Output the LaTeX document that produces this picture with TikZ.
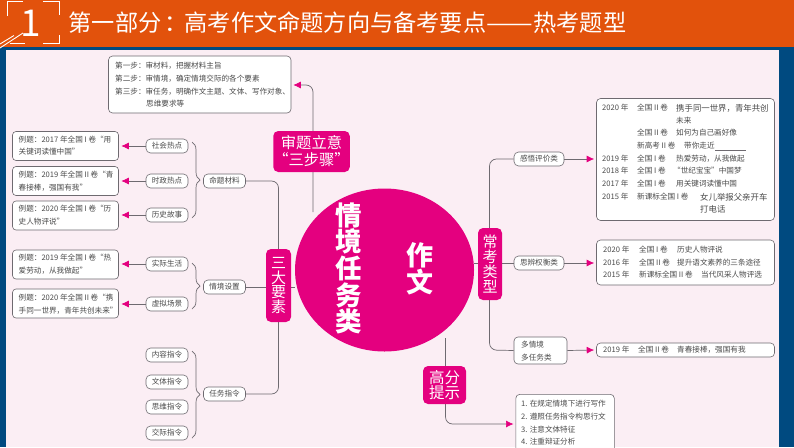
\documentclass[tikz,border=0pt]{standalone}
\usepackage{fontspec}
\usepackage{graphicx}
\setmainfont{Noto Sans CJK SC}
\usetikzlibrary{decorations.pathreplacing,arrows.meta,calc,shapes.geometric}
\definecolor{bluebg}{HTML}{004A80}
\definecolor{orangebar}{HTML}{E2520C}
\definecolor{panel}{HTML}{FBEEF4}
\definecolor{mag}{HTML}{E4007F}
\definecolor{linec}{HTML}{6E6A70}
\definecolor{txt}{HTML}{4A4A4A}
\tikzset{
 x=1pt,y=-1pt,
 wbox/.style={draw=linec,line width=.6pt,fill=white,rounded corners=3pt,inner sep=0pt,minimum height=#1},
 sbox/.style={wbox=14pt,minimum width=42pt,rounded corners=4.5pt,font=\fontsize{7.6}{9}\selectfont,text=txt},
 exbox/.style={wbox=29pt,minimum width=106pt,rounded corners=3.5pt},
 bigbox/.style={draw=linec,line width=.6pt,fill=white,rounded corners=4pt},
 magbox/.style={fill=mag,rounded corners=5pt,text=white,font=\fontsize{15}{16}\selectfont,inner sep=0pt,align=center},
 tx/.style={anchor=west,inner sep=0pt,text=txt,font=\fontsize{7.6}{9}\selectfont},
 txw/.style={tx,font=\fontsize{8.4}{9}\selectfont},
 con/.style={draw=linec,line width=.7pt,rounded corners=7pt},
 arr/.style={con,-{Latex[length=7.5pt,width=7pt,color=mag]}},
 brc/.style={draw=linec,line width=.7pt,decorate,decoration={brace,amplitude=8pt,aspect=.5}},
 hdr/.style={draw=white,line width=.9pt},
}
\begin{document}
\begin{tikzpicture}
\useasboundingbox (0,0) rectangle (794,447);
\fill[bluebg] (0,0) rectangle (794,447);
\fill[panel] (6,50) rectangle (779,447);
\fill[orangebar] (0,0) rectangle (794,47);
% header icon
\draw[hdr] (7,16) -- (7,1.5) -- (23,1.5);
\draw[hdr] (43,1.5) -- (59,1.5) -- (59,15);
\draw[hdr] (59,35) -- (59,43) -- (43,43);
\draw[hdr] (10,43) -- (25,43);
\draw[hdr] (0,48) -- (23,33);
\draw[hdr] (0,44) -- (14,35.5);
\node[text=white,inner sep=0pt,font=\fontsize{37}{37}\selectfont] (num) at (31,23.5) {1};
\node[anchor=west,text=white,inner sep=0pt,font=\fontsize{23.2}{24}\selectfont] (title) at (68.5,22.5) {第一部分\hspace{3pt}：\hspace{-3pt}高考作文命题方向与备考要点\scalebox{1.2}[1]{——}\hspace{0.5pt}热考题型};
% connectors drawn first
\node[fill=mag,ellipse,inner sep=0pt,minimum width=179pt,minimum height=163pt] (hub) at (384.5,270) {};
\coordinate (toplineend) at (313,212);
\coordinate (botstart) at (445.5,338);
% step box
\node[bigbox,minimum width=182.5pt,minimum height=57pt,inner sep=0pt] (steps) at (199.75,84.5) {};
\node[tx] (s1a) at (115,66) {第一步：审材料，把握材料主旨};
\node[tx] (s2a) at (115,79) {第二步：审情境，确定情境交际的各个要素};
\node[tx] (s3a) at (115,92) {第三步：审任务，明确作文主题、文体、写作对象、};
\node[tx] (s4a) at (146,104) {思维要求等};
% examples
\foreach \n/\y in {e1/146,e2/181,e3/215.5,e4/264.5,e5/303.5}{\node[exbox] (\n) at (65.5,\y) {};}
\node[tx] at (18.5,140) {例题：2017 年全国 I 卷“用};
\node[tx] at (18.5,152) {关键词读懂中国”};
\node[tx] at (18.5,175) {例题：2019 年全国 II 卷“青};
\node[tx] at (18.5,187.5) {春接棒，强国有我”};
\node[tx] at (18.5,209) {例题：2020 年全国 I 卷“历};
\node[tx] at (18.5,222) {史人物评说”};
\node[tx] at (18.5,258) {例题：2019 年全国 I 卷“热};
\node[tx] at (18.5,271) {爱劳动，从我做起”};
\node[tx] at (18.5,297.5) {例题：2020 年全国 II 卷“携};
\node[tx] at (18.5,311) {手同一世界，青年共创未来”};
% small nodes
\node[sbox] (a1) at (167,146) {社会热点};
\node[sbox] (a2) at (167,181) {时政热点};
\node[sbox] (a3) at (167,215) {历史故事};
\node[sbox] (a4) at (167,264) {实际生活};
\node[sbox] (a5) at (167,304) {虚拟场景};
\node[sbox] (a6) at (167,355) {内容指令};
\node[sbox] (a7) at (167,382) {文体指令};
\node[sbox] (a8) at (167,407) {思维指令};
\node[sbox] (a9) at (167,433) {交际指令};
\node[sbox] (m1) at (224.5,181) {命题材料};
\node[sbox] (m2) at (224.5,287) {情境设置};
\node[sbox] (m3) at (224.5,394) {任务指令};
\foreach \a/\e in {a1/e1,a2/e2,a3/e3,a4/e4,a5/e5}{\draw[arr] (\a.west) -- ([xshift=2.5pt]\e.east |- \a.west);}
% braces
\coordinate (b1a) at (192,142); \coordinate (b1b) at (192,218);
\coordinate (b2a) at (192,263); \coordinate (b2b) at (192,309);
\coordinate (b3a) at (192,351); \coordinate (b3b) at (192,438);
\draw[brc] (b1a) -- (b1b);
\draw[brc] (b2a) -- (b2b);
\draw[brc] (b3a) -- (b3b);
% left trunk
\draw[con] (m1.east) -- (278.5,181) -- (278.5,394) -- (m3.east);
\draw[con] (m2.east) -- (hub.west |- m2.east);
\node[magbox,minimum width=25pt,minimum height=73pt] (sanda) at (278.5,285.5) {三\\[-1.2pt]大\\[-1.2pt]要\\[-1.2pt]素};
% top branch
\draw[arr] (toplineend) -- (313,85) -- ([xshift=2pt]steps.east |- 0,85);
\node[magbox,minimum width=75pt,minimum height=41pt,font=\fontsize{15.3}{17}\selectfont] (shen) at (311.5,151.5) {审题立意\\“三步骤”};
% hub text
\node[text=white,inner sep=0pt,align=center,font=\fontsize{26.5}{26.7}\selectfont\bfseries] (qj) at (349,268.5) {情\\境\\任\\务\\类};
\node[text=white,inner sep=0pt,align=center,font=\fontsize{27}{27}\selectfont\bfseries] (zw) at (420,268.5) {作\\文};
% right trunk
\node[sbox,minimum width=50pt] (r1) at (539,159) {感悟评价类};
\node[sbox,minimum width=50pt] (r2) at (539,263) {思辨权衡类};
\node[wbox=27pt,minimum width=53pt,rounded corners=4pt,align=left] (r3) at (540.5,350.5) {};
\node[tx] at (521,345) {多情境};
\node[tx] at (521,357.5) {多任务类};
\draw[con] (r1.west) -- (489.5,159) -- (489.5,350) -- (r3.west);
\draw[con] (hub.east |- r2.west) -- (r2.west);
\node[magbox,minimum width=24pt,minimum height=72pt] (chang) at (490,264) {常\\[-1.2pt]考\\[-1.2pt]类\\[-1.2pt]型};
\node[bigbox,minimum width=178pt,minimum height=122pt,inner sep=0pt] (b1) at (685.5,159.5) {};
\node[bigbox,minimum width=178pt,minimum height=45pt,inner sep=0pt] (b2) at (685.5,262.5) {};
\node[bigbox,minimum width=178pt,minimum height=14pt,inner sep=0pt] (b3) at (685.5,350) {};
\draw[arr] (r1.east) -- ([xshift=-2pt]b1.west |- r1.east);
\draw[arr] (r2.east) -- ([xshift=-2pt]b2.west |- r2.east);
\draw[arr] (r3.east) -- ([xshift=-2pt]b3.west);
% big box text
\node[tx] at (602,108) {2020 年};
\node[tx] at (637,108) {全国 II 卷};
\node[txw] at (676,108) {携手同一世界，青年共创};
\node[tx] at (676,120.5) {未来};
\node[tx] at (637,133) {全国 II 卷};
\node[tx] at (676,133) {如何为自己画好像};
\node[tx] at (637,146) {新高考 II 卷};
\node[tx] at (684,146) {带你走近};
\draw[linec,line width=.6pt] (715,150) -- (746,150);
\node[tx] at (602,159) {2019 年};
\node[tx] at (637,159) {全国 I 卷};
\node[tx] at (676,159) {热爱劳动，从我做起};
\node[tx] at (602,171) {2018 年};
\node[tx] at (637,171) {全国 I 卷};
\node[tx] at (673,171) {“世纪宝宝”中国梦};
\node[tx] at (602,184) {2017 年};
\node[tx] at (637,184) {全国 I 卷};
\node[tx] at (676,184) {用关键词读懂中国};
\node[tx] at (602,197) {2015 年};
\node[tx] at (637,197) {新课标全国 I 卷};
\node[txw] at (700,197) {女儿举报父亲开车};
\node[txw] at (700,209.5) {打电话};
\node[tx] at (603,250) {2020 年};
\node[tx] at (639,250) {全国 I 卷};
\node[tx] at (677,250) {历史人物评说};
\node[tx] at (603,263) {2016 年};
\node[tx] at (639,263) {全国 II 卷};
\node[tx] at (677,263) {提升语文素养的三条途径};
\node[tx] at (603,275) {2015 年};
\node[tx] at (639,275) {新课标全国 II 卷};
\node[tx] at (701,275) {当代风采人物评选};
\node[tx] at (603,350) {2019 年};
\node[tx] at (638,350) {全国 II 卷};
\node[tx] at (677,350) {青春接棒，强国有我};
% bottom branch
\begin{scope}
\clip (0,0) rectangle (794,447);
\node[bigbox,minimum width=98.5pt,minimum height=70pt,inner sep=0pt,anchor=north west] (tips) at (515.5,394) {};
\end{scope}
\draw[arr] (botstart) -- (445.5,424) -- ([xshift=-2pt]tips.west |- 0,424);
\node[magbox,minimum width=43pt,minimum height=38pt,font=\fontsize{15.5}{15.5}\selectfont] (gf) at (444.5,385) {高分\\提示};
\node[tx] at (521,404) {1. 在规定情境下进行写作};
\node[tx] at (521,417) {2. 遵照任务指令构思行文};
\node[tx] at (521,429.5) {3. 注意文体特征};
\node[tx] at (521,442) {4. 注重辩证分析};
\end{tikzpicture}
\end{document}
